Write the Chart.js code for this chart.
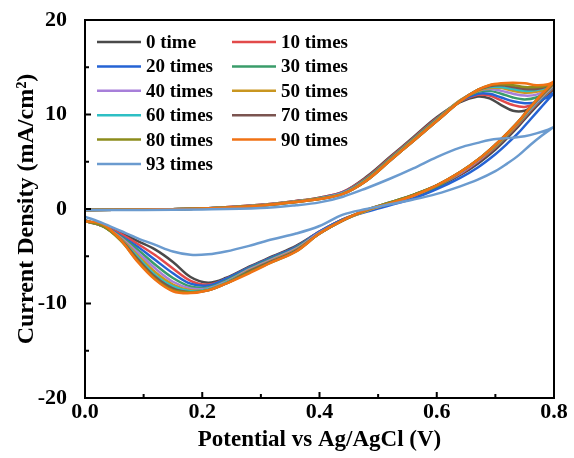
<!DOCTYPE html>
<html>
<head>
<meta charset="utf-8">
<script src="https://cdn.jsdelivr.net/npm/chart.js@4.4.0/dist/chart.umd.min.js"></script>
<style>
  body { margin: 0; background: #fff; }
  #wrap { width: 574px; height: 458px; }
</style>
</head>
<body>
<div id="wrap"><canvas id="cv" width="574" height="458"></canvas></div>
<script>
// potential points (V) for the anodic and the cathodic sweep
var fwdE = [0, 0.1, 0.2, 0.3, 0.36, 0.4, 0.44, 0.48, 0.52, 0.56, 0.6, 0.64, 0.67, 0.69, 0.71, 0.73, 0.75, 0.77, 0.79, 0.8];
var revE = [0.8, 0.78, 0.76, 0.74, 0.72, 0.7, 0.67, 0.64, 0.6, 0.56, 0.52, 0.48, 0.44, 0.4, 0.36, 0.32, 0.28, 0.24, 0.21, 0.18, 0.15, 0.12, 0.09, 0.06, 0.03, 0];

var labels = ['0 time', '10 times', '20 times', '30 times', '40 times', '50 times', '60 times', '70 times', '80 times', '90 times', '93 times'];
var colors = ['#4a4a4a', '#e24a4a', '#2563d4', '#3a9c6a', '#a77fd9', '#c99620', '#2ebfc4', '#7b5450', '#8c8c1c', '#f07214', '#6b9bcf'];

// current density (mA/cm2), anodic sweep
var f0  = [-0.1, -0.05, 0.05, 0.45, 0.85, 1.2, 1.8, 3.4, 5.5, 7.6, 9.7, 11.3, 11.9, 11.7, 11.0, 10.4, 10.4, 11.0, 12.1, 12.7];
var f10 = [-0.1, -0.05, 0.05, 0.45, 0.85, 1.2, 1.8, 3.3, 5.4, 7.5, 9.6, 11.4, 12.1, 12.0, 11.5, 11.0, 10.8, 11.2, 12.3, 12.9];
var f20 = [-0.1, -0.05, 0.05, 0.4, 0.8, 1.15, 1.75, 3.2, 5.3, 7.4, 9.5, 11.4, 12.2, 12.2, 11.8, 11.4, 11.2, 11.3, 11.9, 12.3];
var f30 = [-0.1, -0.05, 0.05, 0.4, 0.8, 1.15, 1.7, 3.2, 5.3, 7.4, 9.5, 11.5, 12.4, 12.5, 12.2, 11.8, 11.6, 11.8, 12.5, 13.0];
var f40 = [-0.1, -0.05, 0.05, 0.4, 0.8, 1.1, 1.7, 3.1, 5.2, 7.3, 9.4, 11.5, 12.5, 12.7, 12.5, 12.2, 12.0, 12.1, 12.7, 13.1];
var f50 = [-0.1, -0.05, 0.05, 0.4, 0.8, 1.1, 1.65, 3.1, 5.2, 7.3, 9.4, 11.5, 12.5, 12.8, 12.8, 12.5, 12.3, 12.4, 12.8, 13.2];
var f60 = [-0.1, -0.05, 0.05, 0.35, 0.75, 1.1, 1.65, 3.0, 5.1, 7.2, 9.3, 11.4, 12.6, 12.9, 12.9, 12.7, 12.5, 12.6, 12.9, 13.3];
var f70 = [-0.1, -0.05, 0.05, 0.35, 0.75, 1.05, 1.6, 3.0, 5.1, 7.2, 9.3, 11.4, 12.6, 13.0, 13.1, 12.9, 12.7, 12.7, 13.0, 13.3];
var f80 = [-0.1, -0.05, 0.05, 0.35, 0.75, 1.05, 1.6, 3.0, 5.1, 7.2, 9.3, 11.4, 12.6, 13.1, 13.2, 13.1, 12.9, 12.9, 13.1, 13.4];
var f90 = [-0.1, -0.05, 0.05, 0.35, 0.75, 1.05, 1.6, 3.0, 5.1, 7.2, 9.3, 11.4, 12.6, 13.1, 13.3, 13.35, 13.3, 13.1, 13.2, 13.5];
var f93 = [-0.1, -0.1, -0.05, 0.1, 0.4, 0.7, 1.3, 2.2, 3.2, 4.3, 5.5, 6.5, 7.0, 7.3, 7.45, 7.55, 7.7, 8.0, 8.4, 8.7];

// current density (mA/cm2), cathodic sweep
var r0  = [12.7, 11.5, 10.2, 8.8, 7.5, 6.3, 4.8, 3.6, 2.3, 1.3, 0.5, -0.2, -1.1, -2.4, -3.9, -5.0, -6.1, -7.3, -7.8, -7.2, -5.6, -4.3, -3.4, -2.5, -1.8, -1.2];
var r10 = [12.9, 11.7, 10.4, 9.0, 7.7, 6.5, 5.0, 3.7, 2.4, 1.4, 0.6, -0.2, -1.1, -2.4, -4.0, -5.1, -6.2, -7.4, -8.0, -7.6, -6.3, -4.9, -3.7, -2.6, -1.8, -1.2];
var r20 = [12.3, 10.9, 9.5, 8.1, 6.9, 5.8, 4.4, 3.3, 2.1, 1.1, 0.4, -0.3, -1.1, -2.4, -4.0, -5.1, -6.2, -7.4, -8.1, -7.9, -6.8, -5.4, -4.0, -2.8, -1.8, -1.2];
var r30 = [13.0, 11.8, 10.5, 9.1, 7.8, 6.6, 5.1, 3.8, 2.4, 1.4, 0.6, -0.2, -1.2, -2.5, -4.1, -5.2, -6.3, -7.6, -8.3, -8.2, -7.3, -5.9, -4.3, -2.9, -1.8, -1.2];
var r40 = [13.1, 11.9, 10.6, 9.2, 7.9, 6.7, 5.1, 3.8, 2.5, 1.4, 0.6, -0.2, -1.2, -2.5, -4.2, -5.3, -6.4, -7.7, -8.4, -8.4, -7.7, -6.3, -4.6, -3.0, -1.8, -1.3];
var r50 = [13.2, 12.0, 10.7, 9.2, 7.9, 6.7, 5.2, 3.9, 2.5, 1.5, 0.6, -0.2, -1.2, -2.6, -4.3, -5.4, -6.5, -7.8, -8.5, -8.6, -8.0, -6.7, -4.9, -3.1, -1.8, -1.3];
var r60 = [13.3, 12.1, 10.7, 9.3, 8.0, 6.8, 5.2, 3.9, 2.5, 1.5, 0.7, -0.1, -1.2, -2.6, -4.4, -5.5, -6.6, -7.8, -8.5, -8.7, -8.2, -7.0, -5.1, -3.2, -1.8, -1.3];
var r70 = [13.3, 12.1, 10.8, 9.3, 8.0, 6.8, 5.2, 3.9, 2.5, 1.5, 0.7, -0.1, -1.2, -2.6, -4.4, -5.5, -6.6, -7.9, -8.6, -8.8, -8.4, -7.2, -5.3, -3.2, -1.8, -1.3];
var r80 = [13.4, 12.2, 10.8, 9.3, 8.0, 6.8, 5.2, 3.9, 2.5, 1.5, 0.7, -0.1, -1.2, -2.6, -4.5, -5.6, -6.7, -7.9, -8.6, -8.8, -8.6, -7.4, -5.5, -3.3, -1.8, -1.3];
var r90 = [13.5, 12.2, 10.8, 9.3, 8.0, 6.8, 5.2, 3.9, 2.5, 1.4, 0.6, -0.1, -1.2, -2.6, -4.5, -5.6, -6.8, -7.9, -8.6, -8.9, -8.7, -7.5, -5.6, -3.2, -1.6, -1.3];
var r93 = [8.7, 7.8, 6.8, 5.7, 4.8, 4.0, 3.1, 2.4, 1.6, 1.0, 0.5, 0.0, -0.6, -1.8, -2.6, -3.2, -3.9, -4.5, -4.8, -4.85, -4.5, -3.8, -3.1, -2.3, -1.5, -0.8];

var fwdJ = [f0, f10, f20, f30, f40, f50, f60, f70, f80, f90, f93];
var revJ = [r0, r10, r20, r30, r40, r50, r60, r70, r80, r90, r93];

var serif = "'Times New Roman', 'Liberation Serif', serif";

var datasets = labels.map(function(lab, i) {
  var pts = fwdE.map(function(e, j) { return { x: e, y: fwdJ[i][j] }; })
    .concat(revE.map(function(e, j) { return { x: e, y: revJ[i][j] }; }));
  return {
    label: lab,
    data: pts,
    showLine: true,
    borderColor: colors[i],
    backgroundColor: colors[i],
    borderWidth: 2.5,
    pointRadius: 0,
    tension: 0.35,
    fill: false,
    order: -i
  };
});

// box round the plot and inward tick marks
var frame = {
  id: 'frame',
  afterDatasetsDraw: function(chart) {
    var c = chart.ctx, a = chart.chartArea;
    var sx = chart.scales.x, sy = chart.scales.y;
    c.save();
    c.strokeStyle = '#000';
    c.lineWidth = 2;
    c.strokeRect(a.left, a.top, a.right - a.left, a.bottom - a.top);
    c.beginPath();
    sx.ticks.forEach(function(t) {
      var p = sx.getPixelForValue(t.value);
      var len = Math.round(t.value * 10) % 2 === 0 ? 6 : 4;
      c.moveTo(p, a.bottom);
      c.lineTo(p, a.bottom - len);
    });
    sy.ticks.forEach(function(t) {
      var p = sy.getPixelForValue(t.value);
      var len = Math.round(t.value) % 10 === 0 ? 6 : 4;
      c.moveTo(a.left, p);
      c.lineTo(a.left + len, p);
    });
    c.stroke();
    c.restore();
  }
};

// two column legend inside the plot
var legend2 = {
  id: 'legend2',
  afterDraw: function(chart) {
    var c = chart.ctx, a = chart.chartArea;
    c.save();
    c.font = 'bold 19px ' + serif;
    c.textBaseline = 'middle';
    chart.data.datasets.forEach(function(d, i) {
      var col = i % 2, row = Math.floor(i / 2);
      var x0 = a.left + 12 + col * 135;
      var y0 = a.top + 22 + row * 24.4;
      c.strokeStyle = d.borderColor;
      c.lineWidth = 2.5;
      c.beginPath();
      c.moveTo(x0, y0);
      c.lineTo(x0 + 44, y0);
      c.stroke();
      c.fillStyle = '#000';
      c.fillText(d.label, x0 + 49, y0 + 1);
    });
    c.restore();
  }
};

new Chart(document.getElementById('cv'), {
  type: 'scatter',
  data: { datasets: datasets },
  options: {
    responsive: false,
    animation: false,
    layout: { padding: { left: 0, right: 20, top: 20, bottom: 0 } },
    plugins: { legend: { display: false }, tooltip: { enabled: false } },
    scales: {
      x: {
        type: 'linear', min: 0, max: 0.8,
        afterFit: function(s) { s.height = 60; },
        border: { display: false },
        grid: { display: false },
        ticks: {
          stepSize: 0.1, autoSkip: false, maxRotation: 0, padding: -7, color: '#000',
          font: { family: serif, size: 22, weight: 'bold' },
          callback: function(v) { return Math.round(v * 10) % 2 === 0 ? v.toFixed(1) : ''; }
        },
        title: {
          display: true, text: 'Potential vs Ag/AgCl (V)', color: '#000',
          font: { family: serif, size: 23, weight: 'bold' },
          padding: { top: 0, bottom: 4 }
        }
      },
      y: {
        type: 'linear', min: -20, max: 20,
        afterFit: function(s) { s.width = 85; s.paddingTop = 0; s.paddingBottom = 0; },
        border: { display: false },
        grid: { display: false },
        ticks: {
          stepSize: 5, autoSkip: false, padding: 10, color: '#000',
          font: { family: serif, size: 22, weight: 'bold' },
          callback: function(v) { return Math.round(v) % 10 === 0 ? v : ''; }
        },
        title: {
          display: true, text: 'Current Density (mA/cm²)', color: '#000',
          font: { family: serif, size: 24, weight: 'bold' },
          padding: { top: 12, bottom: 0 }
        }
      }
    }
  },
  plugins: [frame, legend2]
});
</script>
</body>
</html>
